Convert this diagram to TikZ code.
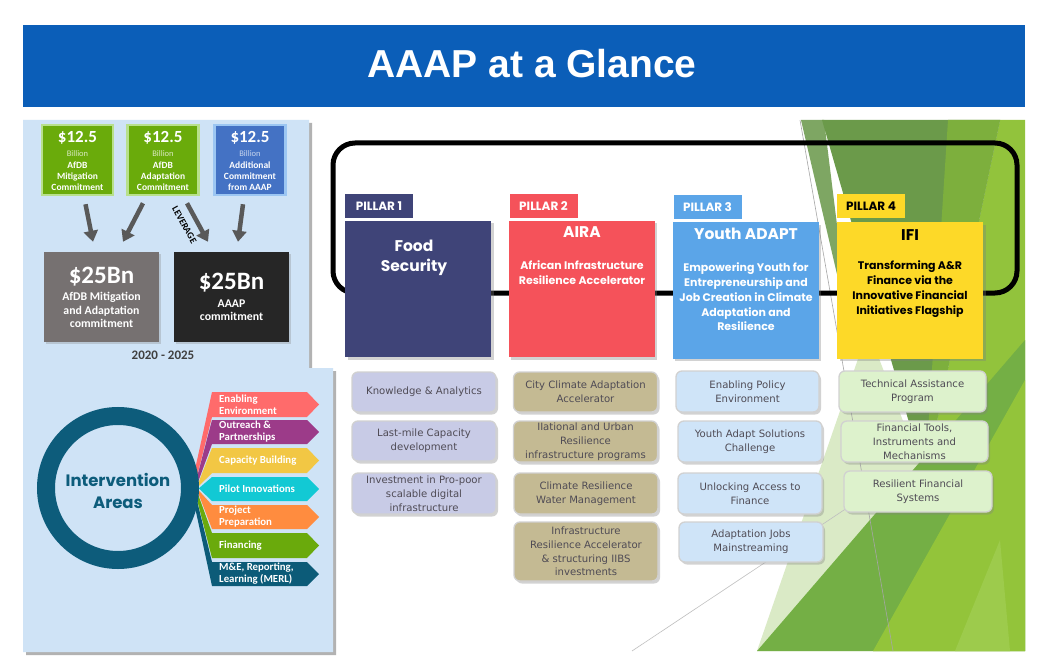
\documentclass[tikz,border=0pt]{standalone}
\usepackage{fontspec}
\setmainfont{Carlito}
\newfontfamily\gothic{Poppins}
\newfontfamily\tahf{DejaVu Sans}
\newfontfamily\arialf{Liberation Sans}
\usetikzlibrary{arrows.meta,shadows,calc}
\definecolor{titleblue}{HTML}{0B5EB8}
\definecolor{panel}{HTML}{CFE3F6}
\definecolor{kgreen}{HTML}{6AAB0B}
\definecolor{kglowg}{HTML}{B8E08C}
\definecolor{kblue}{HTML}{4472C4}
\definecolor{kglowb}{HTML}{9CC6F2}
\definecolor{kgray}{HTML}{767171}
\definecolor{kblack}{HTML}{262626}
\definecolor{arrgray}{HTML}{595959}
\definecolor{ringc}{HTML}{0D5C7B}
\definecolor{ccoral}{HTML}{FF6B6B}
\definecolor{cpurple}{HTML}{9C3B89}
\definecolor{cyellow}{HTML}{F2C744}
\definecolor{ccyan}{HTML}{12C9D4}
\definecolor{corange}{HTML}{FF8C3F}
\definecolor{cgreen}{HTML}{6AAA0C}
\definecolor{cteal}{HTML}{0C5B78}
\definecolor{pnavy}{HTML}{3F4478}
\definecolor{pred}{HTML}{F5525A}
\definecolor{pblue}{HTML}{5BA5E8}
\definecolor{pyellow}{HTML}{FDD928}
\definecolor{slav}{HTML}{C8CBE6}
\definecolor{skhaki}{HTML}{C4BA93}
\definecolor{sblue}{HTML}{CFE4F8}
\definecolor{sgreen}{HTML}{DDF2CC}
\definecolor{stext}{HTML}{4F4B55}
\definecolor{gpale}{HTML}{DAEAC6}
\definecolor{gmuted}{HTML}{7EA663}
\definecolor{gdark}{HTML}{6B9A4A}
\definecolor{gmidv}{HTML}{7DAF3D}
\definecolor{gbright}{HTML}{92C33C}
\definecolor{gmid}{HTML}{74AF45}
\definecolor{gbr}{HTML}{93C43A}
\definecolor{glight}{HTML}{9DCB4C}
\begin{document}
\begin{tikzpicture}[x=1pt,y=-1pt,
  kbox/.style={minimum width=71pt,minimum height=70pt,inner sep=0pt,line width=2.5pt},
  ktop/.style={text=white,font=\bfseries\fontsize{17}{18}\selectfont,inner sep=0pt},
  kbil/.style={font=\fontsize{8.5}{9}\selectfont,inner sep=0pt},
  klab/.style={text=white,font=\bfseries\fontsize{9.5}{11}\selectfont,align=center,inner sep=0pt},
  bigbox/.style={minimum width=115pt,minimum height=90pt,inner sep=0pt,drop shadow={shadow xshift=2pt,shadow yshift=-2pt,opacity=0.3}},
  bigval/.style={text=white,font=\bfseries\fontsize{25}{26}\selectfont,inner sep=0pt},
  biglab/.style={text=white,font=\bfseries\fontsize{11.8}{13.5}\selectfont,align=center,inner sep=0pt},
  arr/.style={draw=arrgray,line width=4.5pt,-{Triangle[width=14pt,length=11pt]}},
  chtext/.style={text=white,font=\bfseries\fontsize{10.8}{12}\selectfont,align=left,anchor=west,inner sep=0pt},
  tab/.style={minimum width=68pt,minimum height=24pt,inner sep=0pt,font=\gothic\bfseries\fontsize{12}{13}\selectfont},
  pbox/.style={minimum width=146pt,minimum height=136pt,inner sep=0pt,drop shadow={shadow xshift=2.5pt,shadow yshift=-2.5pt,opacity=0.35}},
  ptitle/.style={font=\gothic\bfseries\fontsize{15.5}{19.5}\selectfont,align=center,inner sep=0pt},
  psub/.style={font=\gothic\bfseries\fontsize{11}{14.8}\selectfont,align=center,inner sep=0pt},
  subbox/.style={rounded corners=6pt,draw=black!18,line width=1.3pt,inner sep=0pt,
    drop shadow={shadow xshift=2pt,shadow yshift=-2.5pt,opacity=0.35},
    text=stext,font=\tahf\fontsize{10.1}{13.8}\selectfont,align=center}]
\useasboundingbox (0,0) rectangle (1060,671);
\fill[white] (0,0) rectangle (1060,671);

% title
\fill[titleblue] (23,25) rectangle (1025,107);
\node[text=white,font=\arialf\bfseries\fontsize{39}{44}\selectfont,inner sep=0pt] (title) at (532,64) {AAAP at a Glance};

% green background facets
\fill[gpale] (757,651) -- (868,330) -- (925,478) -- (1025,340) -- (1025,651) -- cycle;
\fill[gbright] (925,478) -- (1000,120) -- (1025,120) -- (1025,651) -- (873,651) -- cycle;
\fill[gmuted] (801,120) -- (824,120) -- (850,330) -- cycle;
\fill[gdark] (822,120) -- (1000,120) -- (925,478) -- cycle;
\fill[gmidv] (948,120) -- (1000,120) -- (925,478) -- cycle;
\fill[gmid] (757,651) -- (1025,340) -- (1025,651) -- cycle;
\fill[gbr] (873,651) -- (1025,380) -- (1025,651) -- cycle;
\fill[glight] (955,651) -- (1000,540) -- (1010,651) -- cycle;
\draw[black!35,line width=0.6pt] (800,120) -- (893,651);
\draw[black!25,line width=0.6pt] (632,651) -- (847,508);

% left panel
\fill[black!30] (26,123) -- (312,123) -- (312,371) -- (336,371) -- (336,655) -- (26,655) -- cycle;
\fill[panel] (23,120) -- (309,120) -- (309,368) -- (333,368) -- (333,652) -- (23,652) -- cycle;

% commitment boxes
\node[kbox,fill=kgreen,draw=kglowg] (g1) at (77.5,160) {};
\node[kbox,fill=kgreen,draw=kglowg] (g2) at (163,160) {};
\node[kbox,fill=kblue,draw=kglowb] (g3) at (250,160) {};
\node[ktop] (g1v) at (77.5,138) {\$12.5};
\node[ktop] (g2v) at (163,138) {\$12.5};
\node[ktop] (g3v) at (250,138) {\$12.5};
\node[kbil,text=white!75!kgreen] (g1b) at (77.5,153.5) {Billion};
\node[kbil,text=white!75!kgreen] (g2b) at (163,153.5) {Billion};
\node[kbil,text=white!70!kblue] (g3b) at (250,153.5) {Billion};
\node[klab] (g1l) at (77.5,176) {AfDB\\Mitigation\\Commitment};
\node[klab] (g2l) at (163,176) {AfDB\\Adaptation\\Commitment};
\node[klab] (g3l) at (250,176) {Additional\\Commitment\\from AAAP};

\node[bigbox,fill=kgray] (b1) at (101.5,297) {};
\node[bigbox,fill=kblack] (b2) at (231.5,297) {};
\node[bigval] (b1v) at (101.5,277) {\$25Bn};
\node[bigval] (b2v) at (231.5,283) {\$25Bn};
\node[biglab] (b1l) at (101.5,310) {AfDB Mitigation\\and Adaptation\\commitment};
\node[biglab] (b2l) at (231.5,310) {AAAP\\commitment};

\draw[arr] ($(g1.south)+(8,8)$) -- ($(b1.north)+(-8.5,-10)$);
\draw[arr] ($(g2.south)+(-20,7)$) -- ($(b1.north)+(21.5,-10)$);
\draw[arr] ($(g2.south)+(24,7)$) -- ($(b2.north)+(-23.5,-10)$);
\draw[arr] ($(g3.south)+(-7,8)$) -- ($(b2.north)+(6.5,-10)$);
\node[font=\bfseries\fontsize{9.5}{10}\selectfont,rotate=-61,inner sep=0pt] (lev) at (184.5,225) {LEVERAGE};

\node[font=\bfseries\fontsize{13}{14}\selectfont,text=black!75,inner sep=0pt] (yr) at (163,355) {2020 - 2025};

% intervention areas
\coordinate (rc) at (118,488);
\fill[ccoral] ($(rc)+(28:74)$) -- (212,392) -- (307,392) -- (319,404.5) -- (307,417) -- (212,417) -- ($(rc)+(19:74)$) -- cycle;
\fill[cpurple] ($(rc)+(20:74)$) -- (212,420) -- (307,420) -- (319,432) -- (307,444) -- (212,444) -- ($(rc)+(11:74)$) -- cycle;
\fill[cyellow] ($(rc)+(12:74)$) -- (212,448) -- (307,448) -- (319,460.5) -- (307,473) -- (212,473) -- ($(rc)+(4:74)$) -- cycle;
\fill[ccyan] ($(rc)+(5:74)$) -- (212,477) -- (307,477) -- (319,489) -- (307,501) -- (212,501) -- ($(rc)+(-5:74)$) -- cycle;
\fill[cteal] ($(rc)+(-19:74)$) -- (212,562) -- (307,562) -- (319,574) -- (307,586) -- (212,586) -- ($(rc)+(-28:74)$) -- cycle;
\fill[cgreen] ($(rc)+(-11:74)$) -- (212,533) -- (307,533) -- (319,545.5) -- (307,558) -- (212,558) -- ($(rc)+(-20:74)$) -- cycle;
\fill[corange] ($(rc)+(-4:74)$) -- (212,505) -- (307,505) -- (319,517) -- (307,529) -- (212,529) -- ($(rc)+(-12:74)$) -- cycle;
\node[circle,draw=ringc,line width=18pt,fill=panel,minimum size=144pt,inner sep=0pt] (ring) at (rc) {};
\node[font=\gothic\bfseries\fontsize{16.5}{22}\selectfont,text=ringc,align=center,inner sep=0pt] (iat) at (118,491) {Intervention\\Areas};
\node[chtext] (ch1) at (219,404.5) {Enabling\\Environment};
\node[chtext] (ch2) at (219,432) {Outreach \&\\Partnerships};
\node[chtext] (ch3) at (219,460.5) {Capacity Building};
\node[chtext] (ch4) at (219,489) {Pilot Innovations};
\node[chtext] (ch5) at (219,517) {Project\\Preparation};
\node[chtext] (ch6) at (219,545.5) {Financing};
\node[chtext] (ch7) at (219,574) {M\&E, Reporting,\\Learning (MERL)};

% big rounded outline
\draw[line width=5pt,rounded corners=22pt] (333,143) rectangle (1017,293);

% pillars
\node[tab,fill=pnavy,text=white] (t1) at (379,206) {PILLAR 1};
\node[tab,fill=pred,text=white] (t2) at (543.5,206) {PILLAR 2};
\node[tab,fill=pblue,text=white] (t3) at (707.5,207.5) {PILLAR 3};
\node[tab,fill=pyellow,text=black] (t4) at (871,206.5) {PILLAR 4};
\node[pbox,fill=pnavy] (p1) at (418,289) {};
\node[pbox,fill=pred] (p2) at (581.5,289) {};
\node[pbox,fill=pblue] (p3) at (745.5,290.5) {};
\node[pbox,fill=pyellow] (p4) at (910,290.5) {};
\node[ptitle,text=white] (p1t) at (414,258) {Food\\Security};
\node[ptitle,text=white] (p2t) at (582,232) {AIRA};
\node[psub,text=white] (p2s) at (582,272.5) {African Infrastructure\\Resilience Accelerator};
\node[ptitle,text=white] (p3t) at (746,234) {Youth ADAPT};
\node[psub,text=white] (p3s) at (746,297) {Empowering Youth for\\Entrepreneurship and\\Job Creation in Climate\\Adaptation and\\Resilience};
\node[ptitle,text=black] (p4t) at (910,235) {IFI};
\node[psub,text=black] (p4s) at (910,289) {Transforming A\&R\\Finance via the\\Innovative Financial\\Initiatives Flagship};

% sub boxes column 1
\node[subbox,fill=slav,minimum width=144pt,minimum height=40pt] (a1) at (424,392) {Knowledge \& Analytics};
\node[subbox,fill=slav,minimum width=144pt,minimum height=40pt] (a2) at (424,441) {Last-mile Capacity\\development};
\node[subbox,fill=slav,minimum width=144pt,minimum height=41pt] (a3) at (424,493.5) {Investment in Pro-poor\\scalable digital\\infrastructure};
% column 2
\node[subbox,fill=skhaki,minimum width=144pt,minimum height=40pt] (b21) at (585.5,392) {City Climate Adaptation\\Accelerator};
\node[subbox,fill=skhaki,minimum width=144pt,minimum height=41pt] (b22) at (585.5,441.5) {IIational and Urban\\Resilience\\infrastructure programs};
\node[subbox,fill=skhaki,minimum width=144pt,minimum height=41pt] (b23) at (586,493.5) {Climate Resilience\\Water Management};
\node[subbox,fill=skhaki,minimum width=144pt,minimum height=59pt] (b24) at (586,551.5) {Infrastructure\\Resilience Accelerator\\\& structuring IIBS\\investments};
% column 3
\node[subbox,fill=sblue,minimum width=143pt,minimum height=41pt] (c1) at (747.5,391.5) {Enabling Policy\\Environment};
\node[subbox,fill=sblue,minimum width=144pt,minimum height=41pt] (c2) at (750,441.5) {Youth Adapt Solutions\\Challenge};
\node[subbox,fill=sblue,minimum width=144pt,minimum height=41pt] (c3) at (750,493.5) {Unlocking Access to\\Finance};
\node[subbox,fill=sblue,minimum width=144pt,minimum height=40pt] (c4) at (751,542) {Adaptation Jobs\\Mainstreaming};
% column 4
\node[subbox,fill=sgreen,minimum width=147pt,minimum height=41pt] (d1) at (912.5,391.5) {Technical Assistance\\Program};
\node[subbox,fill=sgreen,minimum width=147pt,minimum height=41pt] (d2) at (914.5,441.5) {Financial Tools,\\Instruments and\\Mechanisms};
\node[subbox,fill=sgreen,minimum width=148pt,minimum height=41pt] (d3) at (918,491.5) {Resilient Financial\\Systems};
\end{tikzpicture}
\end{document}
